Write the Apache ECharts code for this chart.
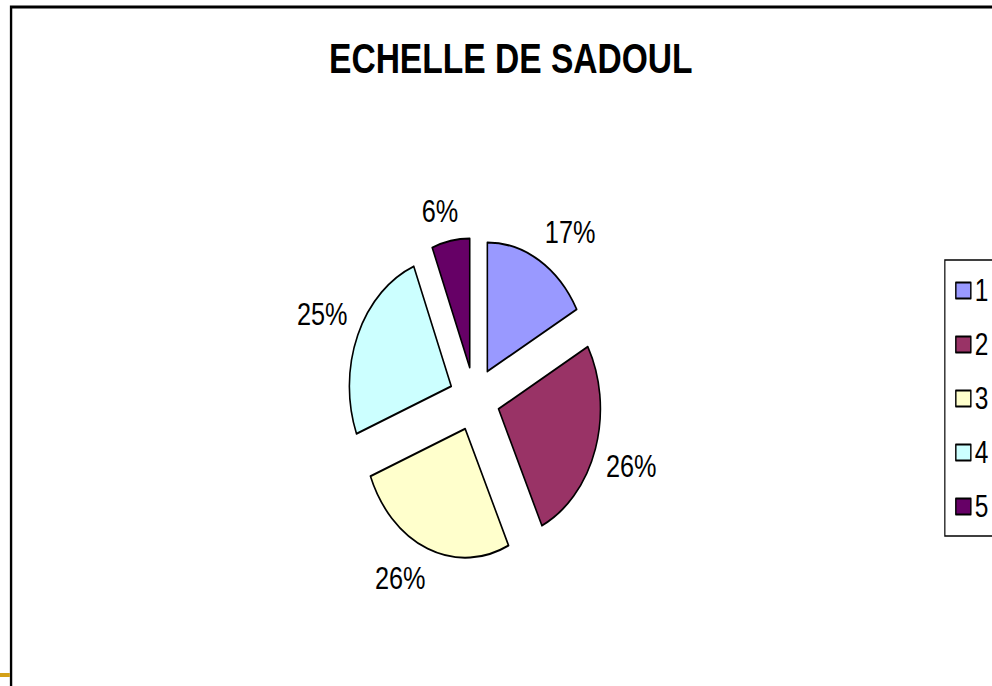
<!DOCTYPE html>
<html>
<head>
<meta charset="utf-8">
<script src="https://cdn.jsdelivr.net/npm/echarts@6/dist/echarts.min.js"></script>
<style>
html, body { margin: 0; padding: 0; overflow: hidden; background: #ffffff; width: 992px; height: 686px; }
#chart { width: 1256px; height: 686px; transform: scaleX(0.79); transform-origin: 0 0; }
</style>
</head>
<body>
<div id="chart"></div>
<script>
// ---- data ----
const titleText = 'ECHELLE DE SADOUL';
const categories = ['1', '2', '3', '4', '5'];
const values = [17, 26, 26, 25, 6];
const colors = ['#9999FF', '#993366', '#FFFFCC', '#CCFFFF', '#660066'];

// ---- layout (unsqueezed coordinates; the whole chart is squeezed horizontally like the reference) ----
const CX = 600.6, CY = 399, R = 129, OFF = 32, GAP = 14;
const FONT = "'Liberation Sans', Arial, Helvetica, sans-serif";

const total = values.reduce((a, b) => a + b, 0);

function labelPlacement(p) {
  let before = 0;
  for (let i = 0; i < p.dataIndex; i++) before += values[i];
  const a = (before + values[p.dataIndex] / 2) / total * 2 * Math.PI;
  const sx = Math.sin(a), sy = -Math.cos(a);
  const r = R + OFF + GAP;
  const w = p.labelRect.width, h = p.labelRect.height;
  const fx = Math.sign(sx) * Math.min(1, 2.5 * Math.abs(sx));
  const fy = Math.sign(sy) * Math.min(1, 2.5 * Math.abs(sy));
  return { x: CX + r * sx + fx * w / 2, y: CY + r * sy + fy * h / 2, align: 'center', verticalAlign: 'middle' };
}

const chart = echarts.init(document.getElementById('chart'), null, { renderer: 'svg' });

chart.setOption({
  animation: false,
  backgroundColor: '#ffffff',
  title: {
    text: titleText,
    left: 641.6,
    top: 32,
    textAlign: 'center',
    textStyle: { fontFamily: FONT, fontSize: 42.5, fontWeight: 'bold', color: '#000000' }
  },
  legend: {
    orient: 'vertical',
    left: 1196,
    top: 260,
    padding: [15, 80, 14, 13],
    borderColor: '#000000',
    borderWidth: 1.5,
    backgroundColor: '#ffffff',
    itemWidth: 19,
    itemHeight: 16,
    itemGap: 23,
    icon: 'rect',
    selectedMode: false,
    data: categories,
    itemStyle: { borderColor: '#000000', borderWidth: 1.8 },
    textStyle: { fontFamily: FONT, fontSize: 31, color: '#000000', padding: [0, 0, 0, 0] }
  },
  graphic: [
    { type: 'rect', silent: true, z: -10,
      shape: { x: 14, y: 7, width: 1500, height: 1000 },
      style: { fill: 'none', stroke: '#000000', lineWidth: 3 } },
    { type: 'rect', silent: true,
      shape: { x: 0, y: 673, width: 12.5, height: 4 },
      style: { fill: '#D4A017' } }
  ],
  series: [{
    // the exploded slices
    type: 'pie',
    center: [CX, CY],
    radius: R,
    startAngle: 90,
    clockwise: true,
    selectedMode: 'multiple',
    selectedOffset: OFF,
    silent: true,
    emphasis: { disabled: true, scale: false },
    itemStyle: { borderColor: '#000000', borderWidth: 2 },
    select: { itemStyle: { borderColor: '#000000', borderWidth: 2 } },
    label: { show: false },
    labelLine: { show: false },
    data: categories.map((c, i) => ({ name: c, value: values[i], selected: true, itemStyle: { color: colors[i] } }))
  }, {
    // percentage labels around the pie (invisible ring, same data)
    type: 'pie',
    center: [CX, CY],
    radius: [200, 214],
    startAngle: 90,
    clockwise: true,
    silent: true,
    avoidLabelOverlap: false,
    emphasis: { disabled: true, scale: false },
    itemStyle: { color: 'rgba(0,0,0,0)', borderWidth: 0 },
    label: {
      show: true,
      position: 'inside',
      formatter: p => Math.round(p.percent) + '%',
      fontFamily: FONT,
      fontSize: 32,
      color: '#000000'
    },
    labelLine: { show: false },
    labelLayout: labelPlacement,
    data: categories.map((c, i) => ({ name: c, value: values[i] }))
  }]
});
</script>
</body>
</html>
